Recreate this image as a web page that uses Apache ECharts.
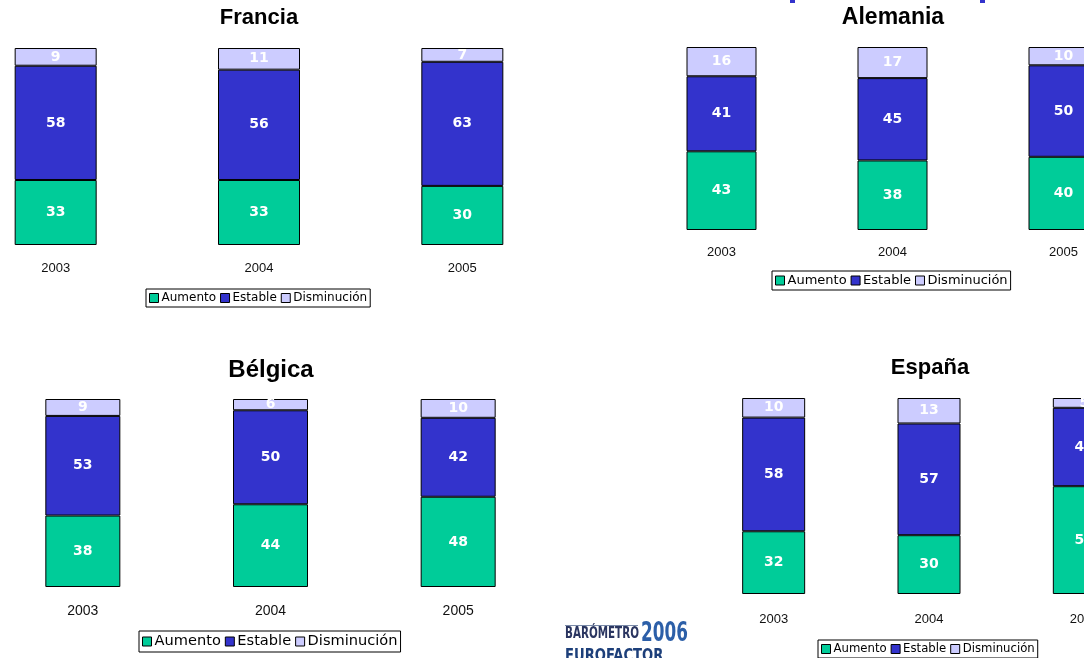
<!DOCTYPE html>
<html>
<head>
<meta charset="utf-8" />
<title>Barómetro 2006</title>
<script src="https://cdn.jsdelivr.net/npm/echarts@6/dist/echarts.min.js"></script>
<style>
  html, body { margin: 0; padding: 0; background: #fff; }
</style>
</head>
<body>
<div id="main" style="width: 1084px;height:658px;"></div>
<script type="text/javascript">
// datos
var years = ['2003', '2004', '2005'];
var seriesNames = ['Aumento', 'Estable', 'Disminución'];

var franciaAumento = [33, 33, 30];
var franciaEstable = [58, 56, 63];
var franciaDisminucion = [9, 11, 7];

var alemaniaAumento = [43, 38, 40];
var alemaniaEstable = [41, 45, 50];
var alemaniaDisminucion = [16, 17, 10];

var belgicaAumento = [38, 44, 48];
var belgicaEstable = [53, 50, 42];
var belgicaDisminucion = [9, 6, 10];

var espanaAumento = [32, 30, 55];
var espanaEstable = [58, 57, 40];
var espanaDisminucion = [10, 13, 5];

var colors = ['#00CC99', '#3333CC', '#CCCCFF'];

// cada panel: grid + ancho de barra + leyenda
var panels = [
  { title: 'Francia', titleSize: 22, tx: 259, ty: 18, grid: { left: -46, top: 48, width: 610, height: 197 }, barWidth: 82, labelSize: 14, axisSize: 13, margin: 17,
    legend: { left: 146, top: 289, fontSize: 12 }, data: [franciaAumento, franciaEstable, franciaDisminucion] },
  { title: 'Alemania', titleSize: 23, tx: 893, ty: 18, grid: { left: 636, top: 47, width: 513, height: 183 }, barWidth: 70, labelSize: 14, axisSize: 13, margin: 16,
    legend: { left: 772, top: 271, fontSize: 13 }, data: [alemaniaAumento, alemaniaEstable, alemaniaDisminucion] },
  { title: 'Bélgica', titleSize: 24, tx: 271, ty: 370, grid: { left: -11, top: 399, width: 563, height: 188 }, barWidth: 75, labelSize: 14, axisSize: 14, margin: 17,
    legend: { left: 139, top: 631, fontSize: 14.6 }, data: [belgicaAumento, belgicaEstable, belgicaDisminucion] },
  { title: 'España', titleSize: 22, tx: 930, ty: 368, grid: { left: 696, top: 398, width: 466, height: 196 }, barWidth: 63, labelSize: 14, axisSize: 13, margin: 19,
    legend: { left: 818, top: 640, fontSize: 11.7 }, data: [espanaAumento, espanaEstable, espanaDisminucion] }
];

var myChart = echarts.init(document.getElementById('main'));

var grids = [], xAxes = [], yAxes = [], series = [], legends = [], graphics = [];

panels.forEach(function(p, i) {
  grids.push({
    left: p.grid.left, top: p.grid.top, width: p.grid.width, height: p.grid.height,
    outerBoundsMode: 'none', containLabel: false
  });
  xAxes.push({
    type: 'category', gridIndex: i, data: years,
    axisLine: { show: false }, axisTick: { show: false },
    axisLabel: { color: '#111', fontSize: p.axisSize, fontFamily: 'Liberation Sans', margin: p.margin, hideOverlap: false }
  });
  yAxes.push({
    type: 'value', gridIndex: i, min: 0, max: 100, show: false
  });
  p.data.forEach(function(d, k) {
    series.push({
      type: 'bar', name: seriesNames[k], xAxisIndex: i, yAxisIndex: i,
      stack: 'panel' + i, barWidth: p.barWidth, data: d,
      itemStyle: { color: colors[k], borderColor: '#000', borderWidth: 1 },
      label: {
        show: true, position: 'inside', color: '#fff', fontWeight: 'bold',
        fontSize: p.labelSize, fontFamily: 'DejaVu Sans'
      },
      emphasis: { disabled: true },
      animation: false
    });
  });
  legends.push({
    left: p.legend.left, top: p.legend.top, orient: 'horizontal',
    data: seriesNames, icon: 'rect', itemWidth: 9, itemHeight: 9, itemGap: 4,
    padding: [3, 3], borderColor: '#000', borderWidth: 1,
    selectedMode: false,
    itemStyle: { borderColor: '#000', borderWidth: 1 },
    textStyle: { fontSize: p.legend.fontSize, fontFamily: 'DejaVu Sans', color: '#000', padding: [0, 0, 0, -2] }
  });
  graphics.push({
    type: 'text', x: p.tx, y: p.ty,
    style: { text: p.title, font: 'bold ' + p.titleSize + 'px "Liberation Sans"', fill: '#000', align: 'center', verticalAlign: 'middle' }
  });
});

// restos del título azul cortado arriba
graphics.push({ type: 'rect', shape: { x: 790, y: 0, width: 5, height: 3 }, style: { fill: '#3333CC' } });
graphics.push({ type: 'rect', shape: { x: 980, y: 0, width: 5, height: 3 }, style: { fill: '#3333CC' } });

// logo del barómetro
graphics.push({ type: 'rect', shape: { x: 565, y: 625, width: 73, height: 1 }, style: { fill: '#7a8aa8' } });
graphics.push({
  type: 'text', x: 565, y: 626, scaleX: 0.72,
  style: { text: 'BARÓMETRO', font: 'bold 16px "DejaVu Sans Condensed"', fill: '#2a3560' }
});
graphics.push({
  type: 'text', x: 641, y: 621, scaleX: 0.72,
  style: { text: '2006', font: 'bold 26px "DejaVu Sans Condensed"', fill: '#2c5fa8' }
});
graphics.push({
  type: 'text', x: 565, y: 648, scaleX: 0.86,
  style: { text: 'EUROFACTOR', font: 'bold 17px "DejaVu Sans Condensed"', fill: '#1d3f7a' }
});

var option = {
  backgroundColor: '#fff',
  animation: false,
  grid: grids,
  xAxis: xAxes,
  yAxis: yAxes,
  legend: legends,
  series: series,
  graphic: graphics
};

myChart.setOption(option);
</script>
</body>
</html>
